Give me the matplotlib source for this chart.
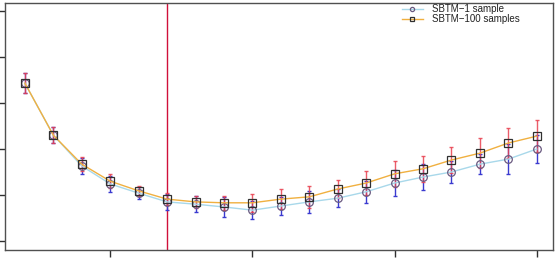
import numpy as np
import matplotlib.pyplot as plt

# x positions (epochs), red line marks chosen point
x = np.arange(2, 21)
x_mark = 7

# SBTM-1 sample
one_mean = [3.43, 2.3, 1.63, 1.24, 1.04, 0.85, 0.80, 0.74, 0.67, 0.76, 0.85, 0.93, 1.07,
            1.26, 1.39, 1.50, 1.67, 1.78, 2.0]
one_err = [0.22, 0.17, 0.17, 0.17, 0.13, 0.17, 0.17, 0.22, 0.2, 0.2, 0.24, 0.2, 0.24,
           0.28, 0.28, 0.24, 0.22, 0.33, 0.3]

# SBTM-100 samples
hun_mean = [3.43, 2.3, 1.67, 1.3, 1.09, 0.91, 0.85, 0.83, 0.83, 0.91, 0.96, 1.13, 1.26,
            1.46, 1.57, 1.76, 1.91, 2.13, 2.28]
hun_err = [0.22, 0.17, 0.15, 0.15, 0.11, 0.13, 0.13, 0.15, 0.2, 0.22, 0.24, 0.2, 0.26,
           0.28, 0.28, 0.28, 0.33, 0.32, 0.35]

plt.rcParams['font.family'] = ['Liberation Sans', 'DejaVu Sans']

fig = plt.figure(figsize=(5.58, 2.6), dpi=100)
ax = fig.add_axes([5 / 558, 10 / 260, 548 / 558, 247 / 260])

ax.errorbar(x, one_mean, yerr=one_err, fmt='none', ecolor='#3a3ad0', elinewidth=1,
            capsize=1.5, capthick=1, zorder=2)
ax.errorbar(x, hun_mean, yerr=hun_err, fmt='none', ecolor='#e8404f', elinewidth=1,
            capsize=1.5, capthick=1, zorder=2, alpha=0.85)

ax.plot(x, one_mean, color='#a8d8ea', lw=1, marker='o', ms=5.5, mfc='none', mec='#6a5a80',
        mew=0.9, label='SBTM\u22121 sample', zorder=3)
ax.plot(x, hun_mean, color='#f0b040', lw=1, marker='s', ms=5.5, mfc='none', mec='#303030',
        mew=0.9, label='SBTM\u2212100 samples', zorder=4)

ax.axvline(x_mark, color='#d0103a', lw=1, zorder=1)

ax.set_xlim(1.3, 20.57)
ax.set_ylim(-0.196, 5.174)
ax.set_xticks([5, 10, 15, 20])
ax.set_yticks([0, 1, 2, 3, 4, 5])
ax.tick_params(axis='both', direction='out', length=5, width=1, color='#303030',
               labelbottom=False, labelleft=False)
for s in ax.spines.values():
    s.set_color('#505050')
    s.set_linewidth(1)

leg = ax.legend(loc='upper left', bbox_to_anchor=(388 / 548, 1.03), frameon=False,
                fontsize=7, handlelength=2.2, handletextpad=0.9, labelspacing=0.0,
                markerscale=0.55)
for t in leg.get_texts():
    t.set_color('#222222')

fig.savefig('out.png', dpi=100)
